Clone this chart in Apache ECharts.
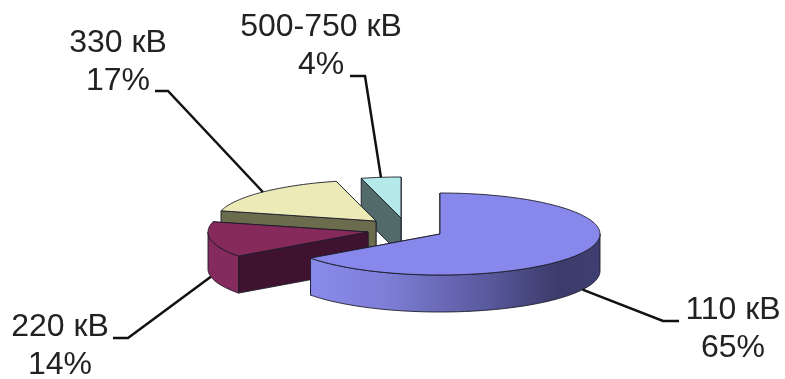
<!DOCTYPE html>
<html><head><meta charset="utf-8">
<style>html,body{margin:0;padding:0;background:#fff}#c{width:785px;height:379px}</style>
<script src="https://cdn.jsdelivr.net/npm/echarts@6/dist/echarts.min.js"></script>
</head><body><div id="c"></div>
<script>
const categories = ['110 кВ', '220 кВ', '330 кВ', '500-750 кВ'];
const shares = [65, 14, 17, 4];

// Appearance and layout, separate from the data
const topColors = ['#8888ec', '#862a5c', '#ecebb8', '#b5eaea'];
const wallColors = ['#3c3b6b', '#3f1230', '#6b6b4e', '#526a6a'];
const rimColors = [null, '#842a5c', '#6b6b4e', '#526a6a'];
const apexes = [[440, 234], [368, 232], [376, 221], [401, 218]];
const paintRank = [3, 2, 1, 0];
const elbows = [[[663, 321], [679, 321]], [[128, 338], [113, 338]], [[168, 91], [155, 91]], [[365, 76], [350, 76]]];
const labelCentres = [[733, 291], [60, 308], [118, 24], [321, 8]];
const RX = 160, RY = 41, DEPTH = 37, FONT = 32, LINE_H = 38, STRETCH = 1;

const total = shares.reduce((a, b) => a + b, 0);
const starts = [];
shares.reduce((acc, v, i) => { starts[i] = acc; return acc + v; }, 0);
const rad = v => v / total * Math.PI * 2;
const rim = (c, a, dy) => [c[0] + RX * Math.sin(a), c[1] - RY * Math.cos(a) + (dy || 0)];
function arc(c, a0, a1, dy) {
  const out = [], n = Math.max(2, Math.ceil(Math.abs(a1 - a0) / 0.02));
  for (let k = 0; k <= n; k++) out.push(rim(c, a0 + (a1 - a0) * k / n, dy));
  return out;
}
const EDGE = '#1c1c28';
function renderItem(params, api) {
  const i = api.value(0), v = api.value(1);
  const c = apexes[i], a0 = rad(starts[i]), a1 = a0 + rad(v);
  const base = paintRank[i] * 10, kids = [];
  const poly = (pts, fill, z) => kids.push({
    type: 'polygon', shape: { points: pts }, z2: base + z,
    style: { fill, stroke: EDGE, lineWidth: 0.9, lineJoin: 'round' }
  });
  const wall = (a, z) => {
    const p = rim(c, a), fill = wallColors[i];
    poly([c, p, [p[0], p[1] + DEPTH], [c[0], c[1] + DEPTH]], fill, z);
  };
  wall(a1, 1);
  wall(a0, 2);
  // Only the front half of the rim is ever visible
  const f0 = Math.max(a0, Math.PI / 2), f1 = Math.min(a1, Math.PI * 1.5);
  if (f1 > f0) {
    const pts = arc(c, f0, f1, 0).concat(arc(c, f1, f0, DEPTH));
    const fill = i === 0 ? {
      type: 'linear', x: 0, y: 0, x2: 1, y2: 0,
      colorStops: [
        { offset: 0, color: '#8a8aec' }, { offset: 0.25, color: '#7f7fd8' },
        { offset: 0.6, color: '#5a5aa0' }, { offset: 0.85, color: '#3c3b6b' },
        { offset: 1, color: '#3f3e72' }]
    } : rimColors[i];
    poly(pts, fill, 3);
  }
  poly([c].concat(arc(c, a0, a1, 0)), topColors[i], 4);

  // Leader line starts on the slice's rim at its mid angle
  const mid = (a0 + a1) / 2;
  const from = rim(c, mid, Math.cos(mid) < 0 ? DEPTH : 0);
  kids.push({
    type: 'polyline', z2: 100,
    shape: { points: [from].concat(elbows[i]) },
    style: { fill: null, stroke: '#111', lineWidth: 2.5 }
  });
  kids.push({
    type: 'text', z2: 101,
    x: labelCentres[i][0], y: labelCentres[i][1], scaleX: STRETCH,
    style: {
      text: categories[i] + '\n' + v + '%', x: 0, y: 0, align: 'center', verticalAlign: 'top',
      font: FONT + 'px "Liberation Sans", Arial, sans-serif', lineHeight: LINE_H, fill: '#222'
    }
  });
  return { type: 'group', children: kids };
}
const chart = echarts.init(document.getElementById('c'), null, { renderer: 'canvas' });
chart.setOption({
  animation: false,
  backgroundColor: '#fff',
  series: [{
    type: 'custom', coordinateSystem: 'none', renderItem, silent: true,
    data: shares.map((v, i) => [i, v])
  }]
});
</script></body></html>
